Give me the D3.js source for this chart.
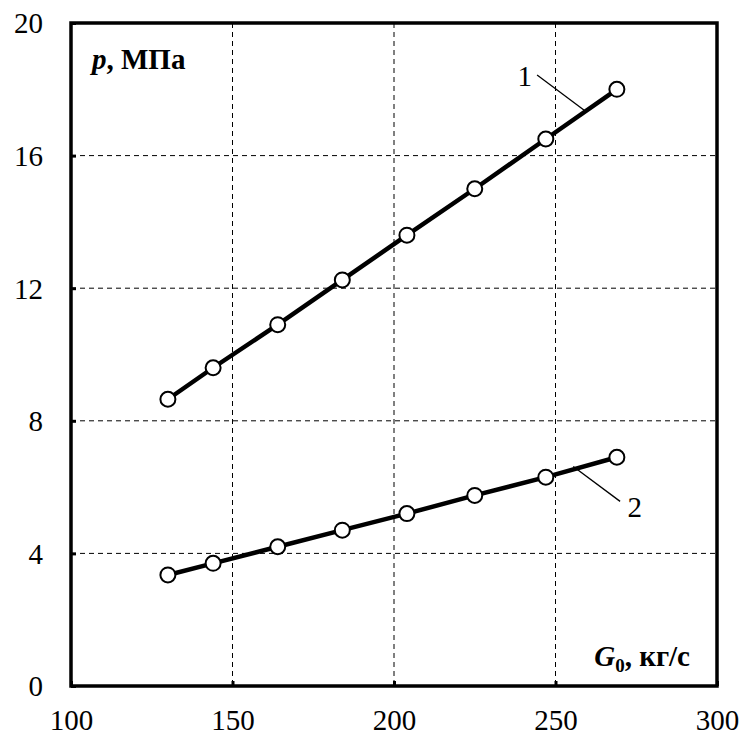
<!DOCTYPE html>
<html><head><meta charset="utf-8">
<script src="https://cdn.jsdelivr.net/npm/d3@7"></script>
<style>body{margin:0;background:#fff}svg{display:block}</style>
</head><body>
<svg id="c" width="742" height="735"></svg>
<script>
const G0 = [130, 144, 164, 184, 204, 225, 247, 269];
const p1 = [8.65, 9.6, 10.9, 12.25, 13.6, 15.0, 16.5, 18.0];
const p2 = [3.35, 3.7, 4.2, 4.7, 5.2, 5.75, 6.3, 6.9];
const xTicks = [100, 150, 200, 250, 300];
const yTicks = [0, 4, 8, 12, 16, 20];

const FONT = "'Liberation Serif', 'Times New Roman', Times, 'DejaVu Serif', serif";
const svg = d3.select("#c").attr("font-family", FONT);
const L = 71, R = 717, T = 23, B = 686;
const x = d3.scaleLinear().domain([100, 300]).range([L, R]);
const y = d3.scaleLinear().domain([0, 20]).range([B, T]);

// grid
svg.append("g").selectAll("line").data(xTicks.slice(1, -1)).join("line")
  .attr("x1", d => x(d)).attr("x2", d => x(d)).attr("y1", T).attr("y2", B)
  .attr("stroke", "#000").attr("stroke-width", 1).attr("stroke-dasharray", "5,4");
svg.append("g").selectAll("line").data(yTicks.slice(1, -1)).join("line")
  .attr("y1", d => y(d)).attr("y2", d => y(d)).attr("x1", L).attr("x2", R)
  .attr("stroke", "#000").attr("stroke-width", 1).attr("stroke-dasharray", "5,4");

// axes
const xa = svg.append("g").attr("transform", `translate(0,${B})`)
  .call(d3.axisBottom(x).tickValues(xTicks).tickSize(-5).tickPadding(23).tickFormat(d3.format("d")));
const ya = svg.append("g").attr("transform", `translate(${L},0)`)
  .call(d3.axisLeft(y).tickValues(yTicks).tickSize(-5).tickPadding(28).tickFormat(d3.format("d")));
[xa, ya].forEach(a => {
  a.attr("font-family", FONT);
  a.select(".domain").remove();
  a.selectAll(".tick line").attr("stroke", "#000").attr("stroke-width", 3);
  a.selectAll("text").attr("font-size", 29).attr("fill", "#000").style("font-family", FONT);
});
xa.selectAll("text").attr("dy", "0.71em");
ya.selectAll("text").attr("dy", "0.34em");

// frame
svg.append("rect").attr("x", L).attr("y", T).attr("width", R - L).attr("height", B - T)
  .attr("fill", "none").attr("stroke", "#000").attr("stroke-width", 3.5);

// series
const line = d3.line().x(d => x(d[0])).y(d => y(d[1]));
[p1, p2].forEach(s => {
  const pts = G0.map((g, i) => [g, s[i]]);
  svg.append("path").attr("d", line(pts)).attr("fill", "none").attr("stroke", "#000").attr("stroke-width", 4.5);
  svg.append("g").selectAll("circle").data(pts).join("circle")
    .attr("cx", d => x(d[0])).attr("cy", d => y(d[1])).attr("r", 7.5)
    .attr("fill", "#fff").attr("stroke", "#000").attr("stroke-width", 2);
});

// leaders and labels
svg.append("line").attr("x1", x(244.3)).attr("y1", y(18.43)).attr("x2", x(259.1)).attr("y2", y(17.35)).attr("stroke", "#000").attr("stroke-width", 1.3);
svg.append("text").attr("x", x(240.5)).attr("y", y(18.1)).attr("font-size", 29).attr("text-anchor", "middle").style("font-family", FONT).text("1");
svg.append("line").attr("x1", x(255.5)).attr("y1", y(6.62)).attr("x2", x(270)).attr("y2", y(5.57)).attr("stroke", "#000").attr("stroke-width", 1.3);
svg.append("text").attr("x", x(274.5)).attr("y", y(5.1)).attr("font-size", 29).attr("text-anchor", "middle").style("font-family", FONT).text("2");

// axis titles
const yt = svg.append("text").attr("x", 92).attr("y", 69).attr("font-size", 29).attr("font-weight", "bold").style("font-family", FONT);
yt.append("tspan").attr("font-style", "italic").text("p");
yt.append("tspan").text(", МПа");
const xt = svg.append("text").attr("x", 690).attr("y", 666).attr("font-size", 29).attr("font-weight", "bold").attr("text-anchor", "end").style("font-family", FONT);
xt.append("tspan").attr("font-style", "italic").text("G");
xt.append("tspan").attr("font-size", 19).attr("dy", 6).text("0");
xt.append("tspan").attr("dy", -6).text(", кг/с");
</script>
</body></html>
